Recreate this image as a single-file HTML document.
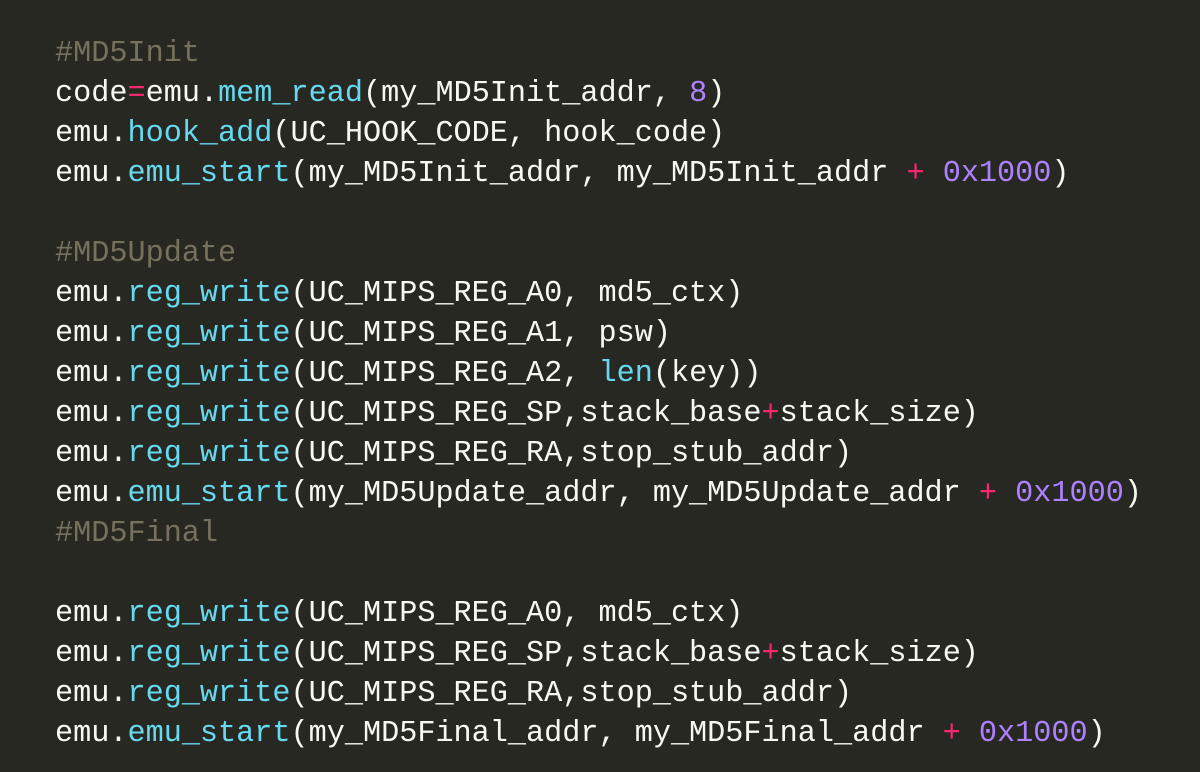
<!DOCTYPE html>
<html><head><meta charset="utf-8"><style>
html,body{margin:0;padding:0;background:#272822;width:1200px;height:772px;overflow:hidden}
pre{margin:0;position:absolute;left:55px;top:34px;font-family:"Liberation Mono","DejaVu Sans Mono",monospace;font-size:30.2px;line-height:40px;color:#f8f8f2}
.c{color:#75715e}.f{color:#66d9ef}.o{color:#f92672}.n{color:#ae81ff}
</style></head><body><pre><span class="c">#MD5Init</span>
code<span class="o">=</span>emu.<span class="f">mem_read</span>(my_MD5Init_addr, <span class="n">8</span>)
emu.<span class="f">hook_add</span>(UC_HOOK_CODE, hook_code)
emu.<span class="f">emu_start</span>(my_MD5Init_addr, my_MD5Init_addr <span class="o">+</span> <span class="n">0x1000</span>)

<span class="c">#MD5Update</span>
emu.<span class="f">reg_write</span>(UC_MIPS_REG_A0, md5_ctx)
emu.<span class="f">reg_write</span>(UC_MIPS_REG_A1, psw)
emu.<span class="f">reg_write</span>(UC_MIPS_REG_A2, <span class="f">len</span>(key))
emu.<span class="f">reg_write</span>(UC_MIPS_REG_SP,stack_base<span class="o">+</span>stack_size)
emu.<span class="f">reg_write</span>(UC_MIPS_REG_RA,stop_stub_addr)
emu.<span class="f">emu_start</span>(my_MD5Update_addr, my_MD5Update_addr <span class="o">+</span> <span class="n">0x1000</span>)
<span class="c">#MD5Final</span>

emu.<span class="f">reg_write</span>(UC_MIPS_REG_A0, md5_ctx)
emu.<span class="f">reg_write</span>(UC_MIPS_REG_SP,stack_base<span class="o">+</span>stack_size)
emu.<span class="f">reg_write</span>(UC_MIPS_REG_RA,stop_stub_addr)
emu.<span class="f">emu_start</span>(my_MD5Final_addr, my_MD5Final_addr <span class="o">+</span> <span class="n">0x1000</span>)</pre></body></html>
